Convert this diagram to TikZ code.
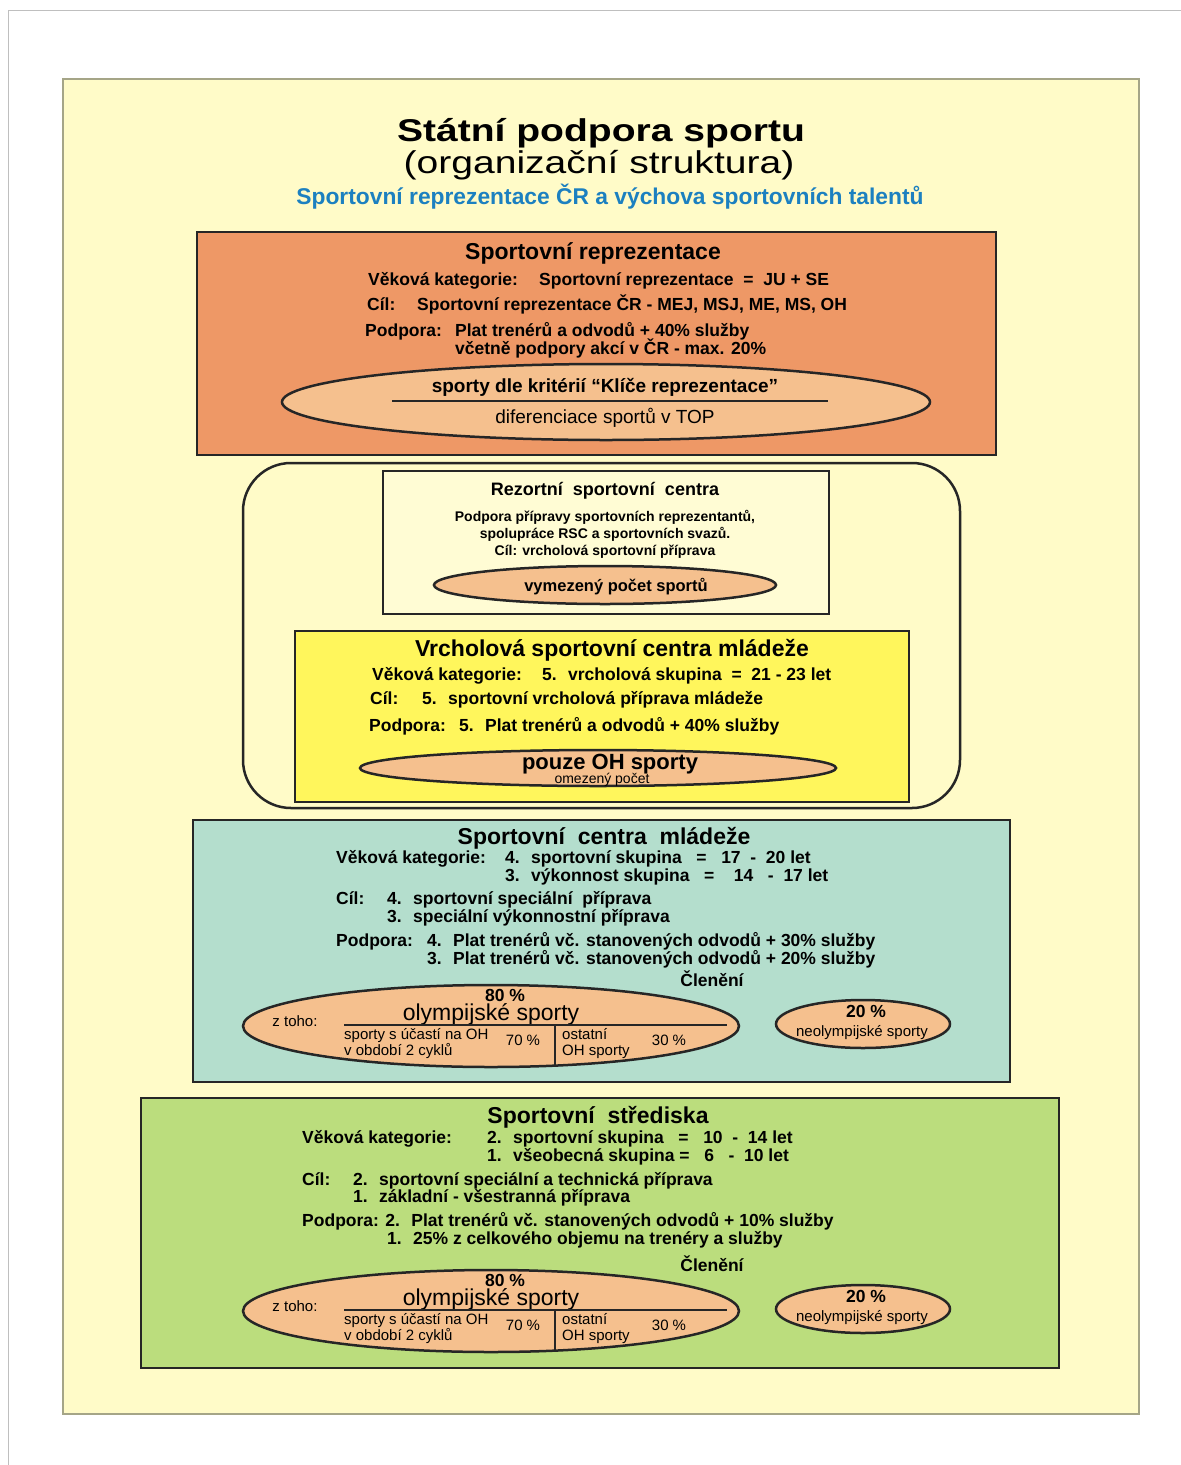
\documentclass[tikz,border=0pt]{standalone}
\usepackage{fontspec}
\setmainfont{Liberation Sans}
\newfontfamily\widefont[FakeStretch=1.24]{Liberation Sans}
\usetikzlibrary{shapes.geometric}
\definecolor{pagebg}{RGB}{255,251,200}
\definecolor{framegray}{RGB}{165,165,135}
\definecolor{repfill}{RGB}{238,152,102}
\definecolor{ovalfill}{RGB}{245,192,142}
\definecolor{rscfill}{RGB}{255,252,212}
\definecolor{vscfill}{RGB}{255,246,92}
\definecolor{scmfill}{RGB}{180,222,205}
\definecolor{ssfill}{RGB}{187,221,125}
\definecolor{bluetext}{RGB}{28,128,192}
\newcommand\fsz[1]{\fontsize{#1}{#1}\selectfont}

\begin{document}
\begin{tikzpicture}[x=1pt, y=-1pt,
  panel/.style={draw=black!85, line width=2.5pt, inner sep=0pt},
  oval/.style={ellipse, draw=black!85, line width=2.5pt, fill=ovalfill, inner sep=0pt},
  rule/.style={draw=black!85, line width=2.5pt},
  lbl/.style={anchor=base west, inner sep=0pt, font=\bfseries\fsz{17.5}},
  mid/.style={anchor=base, inner sep=0pt, font=\bfseries\fsz{17.5}},
  head/.style={anchor=base, inner sep=0pt, font=\bfseries\fsz{23}},
  note/.style={anchor=base west, inner sep=0pt, font=\fsz{15}},
  notec/.style={anchor=base, inner sep=0pt, font=\fsz{15}}
]
\useasboundingbox (0,0) rectangle (1181,1465);
\fill[white] (0,0) rectangle (1181,1465);

% page edges and frame
\coordinate (edgeTL) at (8,10);
\coordinate (edgeTR) at (1181,10);
\coordinate (edgeBL) at (8,1465);
\draw[black!25, line width=1pt] (edgeTR) -- (edgeTL) -- (edgeBL);
\node[draw=framegray, line width=1.2pt, fill=pagebg, minimum width=1076, minimum height=1335, inner sep=0pt] (frame) at (601,746.5) {};

% titles
\node[anchor=base, inner sep=0pt, font=\widefont\bfseries\fsz{31.5}] (title) at (601,141) {Státní podpora sportu};
\node[anchor=base, inner sep=0pt, font=\widefont\fsz{31.5}] (subtitle) at (599,173) {(organizační struktura)};
\node[anchor=base, inner sep=0pt, font=\bfseries\fsz{22.8}, text=bluetext] (blue) at (610,204) {Sportovní reprezentace ČR a výchova sportovních talentů};

% sportovni reprezentace
\node[panel, fill=repfill, minimum width=799, minimum height=223] (rep) at (596.5,343.5) {};
\node[head] (rep-t) at (593,259) {Sportovní reprezentace};
\node[lbl] (rep-a) at (368,285) {Věková kategorie:};
\node[lbl] (rep-av) at (539,285) {Sportovní reprezentace \ = \ JU + SE};
\node[lbl] (rep-b) at (367,310) {Cíl:};
\node[lbl] (rep-bv) at (417,310) {Sportovní reprezentace ČR - MEJ, MSJ, ME, MS, OH};
\node[lbl] (rep-c) at (365,336) {Podpora:};
\node[lbl] (rep-cv) at (455,336) {Plat trenérů a odvodů + 40\% služby};
\node[lbl] (rep-cw) at (455,354) {včetně podpory akcí v ČR - max. 20\%};
\node[oval, minimum width=648, minimum height=76] (rep-o) at (606,402) {};
\node[anchor=base, inner sep=0pt, font=\bfseries\fsz{19}] (rep-o1) at (605,392) {sporty dle kritérií “Klíče reprezentace”};
\coordinate (rep-l) at (392,401);
\coordinate (rep-r) at (828,401);
\draw[rule] (rep-l) -- (rep-r);
\node[anchor=base, inner sep=0pt, font=\fsz{19}] (rep-o2) at (605,423) {diferenciace sportů v TOP};

% rezortni a vrcholova centra
\node[draw=black!85, line width=2.5pt, rounded corners=48, minimum width=717, minimum height=345, inner sep=0pt] (elite) at (601.5,635.5) {};
\node[panel, fill=rscfill, minimum width=446, minimum height=143] (rsc) at (606,542.5) {};
\node[anchor=base, inner sep=0pt, font=\bfseries\fsz{18}] (rsc-t) at (605,495) {Rezortní \ sportovní \ centra};
\node[anchor=base, inner sep=0pt, font=\bfseries\fsz{14}] (rsc-a) at (605,521) {Podpora přípravy sportovních reprezentantů,};
\node[anchor=base, inner sep=0pt, font=\bfseries\fsz{14}] (rsc-b) at (605,538) {spolupráce RSC a sportovních svazů.};
\node[anchor=base, inner sep=0pt, font=\bfseries\fsz{14}] (rsc-c) at (605,555) {Cíl: vrcholová sportovní příprava};
\node[oval, minimum width=342, minimum height=38] (rsc-o) at (605,585) {};
\node[anchor=base, inner sep=0pt, font=\bfseries\fsz{16.5}] (rsc-o1) at (616,591) {vymezený počet sportů};

\node[panel, fill=vscfill, minimum width=614, minimum height=171] (vsc) at (602,716.5) {};
\node[head] (vsc-t) at (612,656) {Vrcholová sportovní centra mládeže};
\node[lbl] (vsc-a) at (372,680) {Věková kategorie:};
\node[lbl] (vsc-av) at (542,680) {5. \ vrcholová skupina \ = \ 21 - 23 let};
\node[lbl] (vsc-b) at (370,704) {Cíl:};
\node[lbl] (vsc-bv) at (422,704) {5. \ sportovní vrcholová příprava mládeže};
\node[lbl] (vsc-c) at (369,731) {Podpora:};
\node[lbl] (vsc-cv) at (459,731) {5. \ Plat trenérů a odvodů + 40\% služby};
\node[oval, minimum width=476, minimum height=36] (vsc-o) at (598,768) {};
\node[anchor=base, inner sep=0pt, font=\bfseries\fsz{22}] (vsc-o1) at (610,769) {pouze OH sporty};
\node[anchor=base, inner sep=0pt, font=\fsz{14}] (vsc-o2) at (602,783) {omezený počet};

% sportovni centra mladeze
\node[panel, fill=scmfill, minimum width=817, minimum height=262] (scm) at (601.5,951) {};
\node[head] (scm-t) at (604,844) {Sportovní \ centra \ mládeže};
\node[lbl] (scm-a) at (336,863) {Věková kategorie:};
\node[lbl] (scm-av) at (505,863) {4. \ sportovní skupina \ \ = \ \ 17 \ - \ 20 let};
\node[lbl] (scm-aw) at (505,881) {3. \ výkonnost skupina \ \ = \ \ \ 14 \ \ - \ 17 let};
\node[lbl] (scm-b) at (336,904) {Cíl:};
\node[lbl] (scm-bv) at (387,904) {4. \ sportovní speciální \ příprava};
\node[lbl] (scm-bw) at (387,922) {3. \ speciální výkonnostní příprava};
\node[lbl] (scm-c) at (336,946) {Podpora:};
\node[lbl] (scm-cv) at (427,946) {4. \ Plat trenérů vč. stanovených odvodů + 30\% služby};
\node[lbl] (scm-cw) at (427,964) {3. \ Plat trenérů vč. stanovených odvodů + 20\% služby};
\node[mid] (scm-d) at (712,986) {Členění};

% sportovni strediska
\node[panel, fill=ssfill, minimum width=918, minimum height=270] (ss) at (600,1233) {};
\node[head] (ss-t) at (598,1123) {Sportovní \ střediska};
\node[lbl] (ss-a) at (302,1143) {Věková kategorie:};
\node[lbl] (ss-av) at (487,1143) {2. \ sportovní skupina \ \ = \ \ 10 \ - \ 14 let};
\node[lbl] (ss-aw) at (487,1161) {1. \ všeobecná skupina = \ \ 6 \ \ - \ 10 let};
\node[lbl] (ss-b) at (302,1185) {Cíl:};
\node[lbl] (ss-bv) at (353,1185) {2. \ sportovní speciální a technická příprava};
\node[lbl] (ss-bw) at (353,1202) {1. \ základní - všestranná příprava};
\node[lbl] (ss-c) at (302,1226) {Podpora: 2. \ Plat trenérů vč. stanovených odvodů + 10\% služby};
\node[lbl] (ss-cw) at (387,1244) {1. \ 25\% z celkového objemu na trenéry a služby};
\node[mid] (ss-d) at (712,1271) {Členění};

% cleneni sportu
\foreach \grp/\dy in {scm/0, ss/285} {
  \node[oval, minimum width=496, minimum height=82] (\grp-oly) at (491,1026+\dy) {};
  \node[mid] (\grp-p80) at (505,1001+\dy) {80 \%};
  \node[anchor=base, inner sep=0pt, font=\fsz{23}] (\grp-olyt) at (491,1020+\dy) {olympijské sporty};
  \node[notec] (\grp-zt) at (295,1026+\dy) {z toho:};
  \coordinate (\grp-hl) at (344,1025+\dy);
  \coordinate (\grp-hr) at (727,1025+\dy);
  \coordinate (\grp-vt) at (555,1025+\dy);
  \coordinate (\grp-vb) at (555,1066+\dy);
  \draw[rule] (\grp-hl) -- (\grp-hr);
  \draw[rule] (\grp-vt) -- (\grp-vb);
  \node[note] (\grp-s1) at (344,1039+\dy) {sporty s účastí na OH};
  \node[note] (\grp-s2) at (344,1055+\dy) {v období 2 cyklů};
  \node[notec] (\grp-p70) at (523,1045+\dy) {70 \%};
  \node[note] (\grp-o1) at (562,1039+\dy) {ostatní};
  \node[note] (\grp-o2) at (562,1055+\dy) {OH sporty};
  \node[notec] (\grp-p30) at (669,1045+\dy) {30 \%};
  \node[oval, minimum width=174, minimum height=48] (\grp-neo) at (863,1024+\dy) {};
  \node[mid] (\grp-p20) at (866,1017+\dy) {20 \%};
  \node[notec] (\grp-neot) at (862,1036+\dy) {neolympijské sporty};
}
\end{tikzpicture}
\end{document}
